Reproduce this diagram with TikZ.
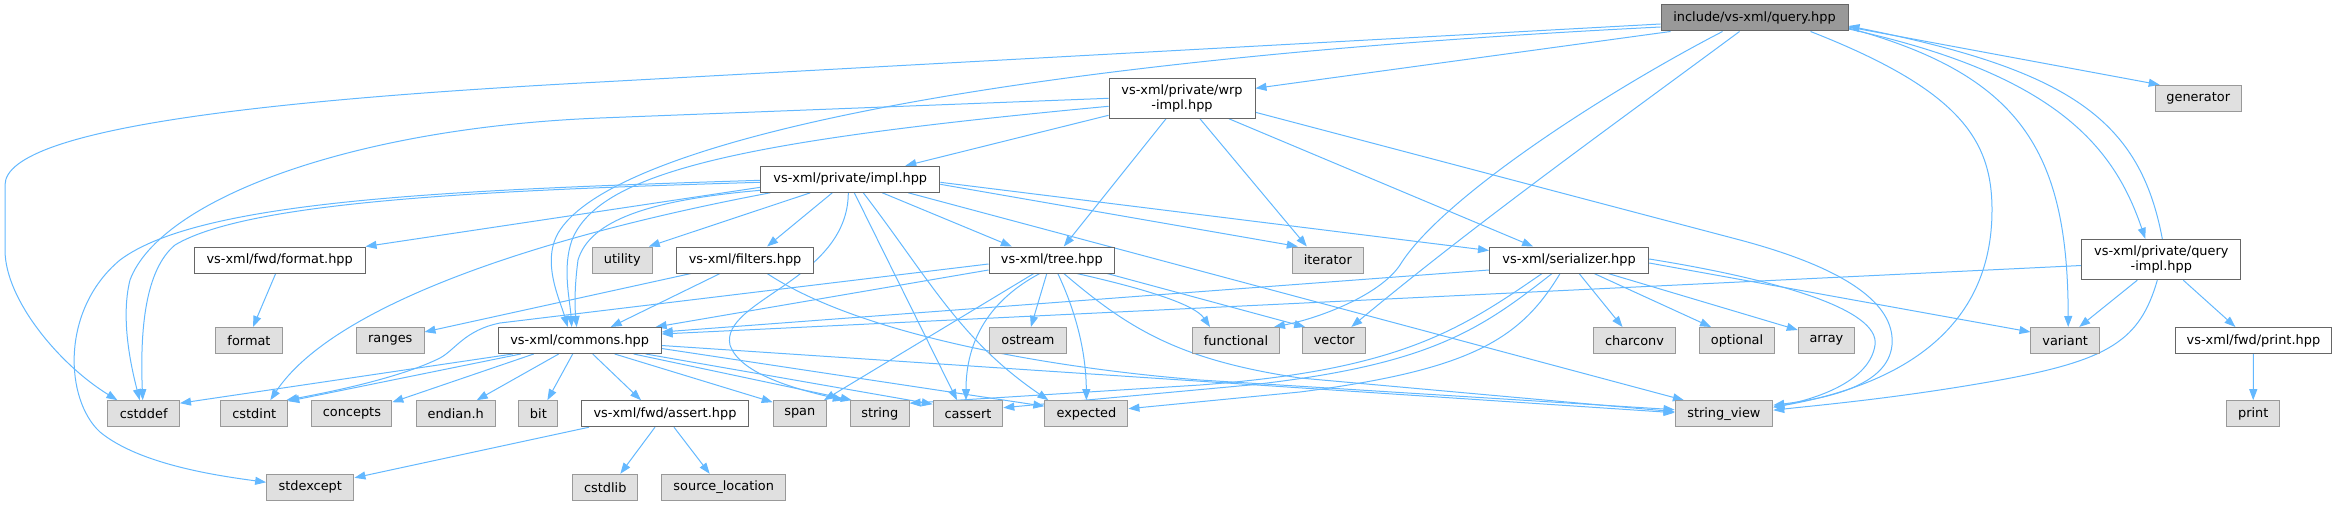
\documentclass[tikz,border=0pt]{standalone}
\usepackage{fontspec}
\setmainfont{DejaVu Sans}
\usetikzlibrary{arrows.meta,backgrounds}
\definecolor{edgec}{HTML}{63B8FF}
\definecolor{bordA}{HTML}{666666}
\definecolor{bordB}{HTML}{999999}
\definecolor{fillB}{HTML}{E0E0E0}
\definecolor{fillR}{HTML}{999999}
\newcommand\gfont{\fontsize{12.9pt}{15pt}\selectfont}
\tikzset{
  base/.style={line width=1pt, font=\gfont, inner sep=0pt, minimum height=26pt, align=center},
  hdr/.style={base, draw=bordA, fill=white},
  sys/.style={base, draw=bordB, fill=fillB},
  rootn/.style={base, draw=bordA, fill=fillR},
  conn/.style={draw=edgec, line width=1pt, -{Triangle[length=11pt,width=8pt]}}
}
\begin{document}
\begin{tikzpicture}[x=1pt,y=-1pt]
\useasboundingbox (0,0) rectangle (2337,505);
% nodes
\node[rootn, minimum width=187pt] (root) at (1754.5,18) {include/vs-xml/query.hpp};
\node[hdr, minimum width=146pt, minimum height=40pt] (wrp) at (1182,98.3) {vs-xml/private/wrp\\-impl.hpp};
\node[sys, minimum width=86pt] (generator) at (2198.2,98.3) {generator};
\node[hdr, minimum width=179pt] (impl) at (850.3,179.3) {vs-xml/private/impl.hpp};
\node[hdr, minimum width=170.7pt] (formathpp) at (279.7,260) {vs-xml/fwd/format.hpp};
\node[sys, minimum width=60pt] (utility) at (622.3,260) {utility};
\node[hdr, minimum width=136.6pt] (filters) at (745.1,260) {vs-xml/filters.hpp};
\node[hdr, minimum width=125.6pt] (tree) at (1051.8,260) {vs-xml/tree.hpp};
\node[sys, minimum width=70.8pt] (iterator) at (1327.8,260) {iterator};
\node[hdr, minimum width=159.2pt] (serializer) at (1569.1,260) {vs-xml/serializer.hpp};
\node[hdr, minimum width=158.8pt, minimum height=40.4pt] (qimpl) at (2161.3,259.5) {vs-xml/private/query\\-impl.hpp};
\node[sys, minimum width=67pt] (format) at (249,340.5) {format};
\node[sys, minimum width=67.4pt] (ranges) at (390.3,340.5) {ranges};
\node[hdr, minimum width=162.9pt] (commons) at (579.7,340.5) {vs-xml/commons.hpp};
\node[sys, minimum width=76.2pt] (ostream) at (1027.9,340.5) {ostream};
\node[sys, minimum width=86.9pt] (functional) at (1236,340.5) {functional};
\node[sys, minimum width=63.2pt] (vector) at (1334.3,340.5) {vector};
\node[sys, minimum width=81.1pt] (charconv) at (1634.5,340.5) {charconv};
\node[sys, minimum width=75.1pt] (optional) at (1737,340.5) {optional};
\node[sys, minimum width=56.3pt] (array) at (1826.4,340.5) {array};
\node[sys, minimum width=68.5pt] (variant) at (2065.2,340.5) {variant};
\node[hdr, minimum width=156.5pt] (printhpp) at (2253.4,340.5) {vs-xml/fwd/print.hpp};
\node[sys, minimum width=71.6pt] (cstddef) at (143.7,413.7) {cstddef};
\node[sys, minimum width=67pt] (cstdint) at (254.3,413.7) {cstdint};
\node[sys, minimum width=79.9pt] (concepts) at (351.9,413.7) {concepts};
\node[sys, minimum width=78.9pt] (endian) at (455.7,413.7) {endian.h};
\node[sys, minimum width=39pt] (bit) at (538.4,413.7) {bit};
\node[hdr, minimum width=166.8pt] (assert) at (665,413.7) {vs-xml/fwd/assert.hpp};
\node[sys, minimum width=53.2pt] (span) at (799.8,413.7) {span};
\node[sys, minimum width=58.6pt] (string) at (879.8,413.7) {string};
\node[sys, minimum width=69.6pt] (cassert) at (968,413.7) {cassert};
\node[sys, minimum width=83.1pt] (expected) at (1086.4,413.7) {expected};
\node[sys, minimum width=97.7pt] (stringview) at (1723.9,413.7) {string\_view};
\node[sys, minimum width=52.5pt] (print) at (2253.2,413.7) {print};
\node[sys, minimum width=87.3pt] (stdexcept) at (310.3,487.3) {stdexcept};
\node[sys, minimum width=65pt] (cstdlib) at (605.3,487.3) {cstdlib};
\node[sys, minimum width=124.4pt] (srcloc) at (723.7,487.3) {source\_location};
\begin{pgfonlayer}{background}
% root
\draw[conn] ([yshift=-6pt]root.west) -- (600,82) .. controls (300,98) and (5,125) .. (5,185) -- (5,250) .. controls (5,300) and (60,365) .. ([xshift=10pt]cstddef.north west);
\draw[conn] ([yshift=-9pt]root.west) .. controls (1000,60) and (620,140) .. (560,230) .. controls (540,260) and (560,300) .. ([xshift=-12pt]commons.north);
\draw[conn] ([xshift=10pt]root.south west) -- ([yshift=10pt]wrp.east);
\draw[conn] ([xshift=-32pt]root.south) .. controls (1600,95) and (1440,200) .. (1400,265) .. controls (1380,295) and (1320,318) .. ([xshift=-6pt]functional.north east);
\draw[conn] ([xshift=-15pt]root.south) .. controls (1620,120) and (1480,220) .. ([xshift=17pt]vector.north);
\draw[conn] ([xshift=56pt]root.south) .. controls (1960,90) and (1992,140) .. (1992,210) .. controls (1992,330) and (1900,385) .. ([yshift=-7pt]stringview.north east);
\draw[conn] ([yshift=-10pt]root.east) .. controls (2020,75) and (2068,150) .. ([xshift=3pt]variant.north);
\draw[conn] ([yshift=-11pt]root.east) .. controls (2060,75) and (2115,150) .. ([xshift=-16pt]qimpl.north);
\draw[conn] ([xshift=1pt]qimpl.north) .. controls (2140,120) and (2070,70) .. ([yshift=-8pt]root.east);
\draw[conn] ([yshift=-9pt]root.east) -- ([xshift=5pt]generator.north west);
% wrp
\draw[conn] (wrp.west) -- (600,118) .. controls (350,128) and (160,200) .. (130,280) .. controls (120,320) and (132,370) .. ([xshift=-4pt]cstddef.north);
\draw[conn] ([yshift=-8pt]wrp.west) .. controls (750,140) and (600,170) .. (572,240) .. controls (562,268) and (570,300) .. ([xshift=-8pt]commons.north);
\draw[conn] ([yshift=-17pt]wrp.west) -- ([xshift=55pt]impl.north);
\draw[conn] ([xshift=-16pt]wrp.south) -- ([xshift=12pt]tree.north);
\draw[conn] ([xshift=18pt]wrp.south) -- ([xshift=-21pt]iterator.north);
\draw[conn] ([xshift=47pt]wrp.south) -- ([xshift=-36pt]serializer.north);
\draw[conn] ([yshift=-14pt]wrp.east) -- (1740,240) .. controls (1860,272) and (1895,310) .. (1892,345) .. controls (1888,385) and (1830,398) .. ([yshift=-5pt]stringview.north east);
% impl
\draw[conn] ([yshift=-8pt]impl.west) -- (formathpp.north east);
\draw[conn] ([xshift=-40pt]impl.south) -- ([xshift=-4pt]utility.north east);
\draw[conn] ([xshift=-18pt]impl.south) -- ([xshift=22pt]filters.north);
\draw[conn] ([xshift=32pt]impl.south) -- ([xshift=-40pt]tree.north);
\draw[conn] ([yshift=-5pt]impl.east) -- ([xshift=-30pt]iterator.north);
\draw[conn] ([yshift=-3pt]impl.east) -- ([yshift=-4pt]serializer.north west);
\draw[conn] ([xshift=58pt]impl.south) -- ([xshift=-40pt]stringview.north);
\draw[conn] ([yshift=-11pt]impl.west) .. controls (650,200) and (590,220) .. (578,260) .. controls (574,290) and (575,310) .. ([xshift=-3pt]commons.north);
\draw[conn] ([yshift=-3pt]impl.west) .. controls (500,190) and (250,200) .. (175,245) .. controls (145,270) and (140,330) .. ([xshift=-1pt]cstddef.north);
\draw[conn] ([yshift=-1pt]impl.west) .. controls (450,190) and (200,200) .. (120,260) .. controls (60,310) and (65,400) .. (100,432) .. controls (140,465) and (220,476) .. ([yshift=5pt]stdexcept.west);
\draw[conn] ([xshift=-80pt]impl.south) .. controls (520,240) and (330,310) .. ([xshift=16pt]cstdint.north);
\draw[conn] ([xshift=-2pt]impl.south) .. controls (848,280) and (720,300) .. (730,345) .. controls (740,375) and (800,390) .. ([xshift=-36pt]string.north);
\draw[conn] ([xshift=4pt]impl.south) -- ([xshift=-11pt]cassert.north);
\draw[conn] ([xshift=13pt]impl.south) .. controls (930,280) and (960,340) .. ([xshift=-38pt]expected.north);
% filters
\draw[conn] ([xshift=-54pt]filters.south) -- ([yshift=-5pt]ranges.north east);
\draw[conn] ([xshift=-25pt]filters.south) -- ([xshift=31pt]commons.north);
\draw[conn] ([xshift=22pt]filters.south) .. controls (860,335) and (1050,368) .. (1200,380) -- ([yshift=4pt]stringview.west);
% tree
\draw[conn] ([yshift=-10pt]tree.west) -- ([xshift=-6pt]commons.north east);
\draw[conn] ([yshift=-4pt]tree.west) -- (500,323) .. controls (465,330) and (455,350) .. (440,358) .. controls (400,378) and (330,392) .. ([xshift=-2pt]cstdint.north east);
\draw[conn] ([xshift=-18pt]tree.south) -- ([xshift=-3pt]span.north east);
\draw[conn] ([xshift=-12pt]tree.south) .. controls (990,300) and (966,340) .. ([xshift=-2pt]cassert.north);
\draw[conn] ([xshift=-5pt]tree.south) -- ([xshift=3pt]ostream.north);
\draw[conn] ([xshift=6pt]tree.south) .. controls (1075,310) and (1086,350) .. (expected.north);
\draw[conn] ([xshift=12pt]tree.south) .. controls (1130,330) and (1180,360) .. (1300,378) -- ([yshift=2pt]stringview.west);
\draw[conn] ([xshift=25pt]tree.south) .. controls (1150,290) and (1195,305) .. ([xshift=-26pt]functional.north);
\draw[conn] ([xshift=-8pt]tree.south east) -- ([xshift=3pt]vector.north west);
% serializer
\draw[conn] ([yshift=-10pt]serializer.west) -- ([yshift=-5pt]commons.north east);
\draw[conn] ([xshift=-27pt]serializer.south) .. controls (1460,330) and (1400,370) .. (1200,385) -- ([yshift=-3pt]string.north east);
\draw[conn] ([xshift=-17pt]serializer.south) .. controls (1480,330) and (1430,365) .. (1250,385) -- ([yshift=6pt]cassert.east);
\draw[conn] ([xshift=-9pt]serializer.south) .. controls (1520,340) and (1470,370) .. (1300,392) -- ([yshift=5pt]expected.east);
\draw[conn] ([xshift=10pt]serializer.south) -- ([xshift=-12pt]charconv.north);
\draw[conn] ([xshift=25pt]serializer.south) -- ([xshift=-26pt]optional.north);
\draw[conn] ([xshift=39pt]serializer.south) -- ([yshift=-3pt]array.north west);
\draw[conn] ([yshift=-3pt]serializer.east) -- ([yshift=-5pt]variant.north west);
\draw[conn] ([yshift=1pt]serializer.east) .. controls (1780,280) and (1880,310) .. (1875,345) .. controls (1870,380) and (1820,398) .. ([yshift=-7pt]stringview.north east);
% query-impl
\draw[conn] ([yshift=-6pt]qimpl.west) -- ([yshift=-7pt]commons.north east);
\draw[conn] ([xshift=-24pt]qimpl.south) -- ([xshift=14pt]variant.north);
\draw[conn] ([xshift=-4pt]qimpl.south) .. controls (2140,340) and (2110,360) .. (2000,380) .. controls (1900,398) and (1820,405) .. ([yshift=-10pt]stringview.north east);
\draw[conn] ([xshift=22pt]qimpl.south) -- ([xshift=-18pt]printhpp.north);
\draw[conn] (printhpp.south) -- (print.north);
\draw[conn] ([xshift=-4pt]formathpp.south) -- ([xshift=4pt]format.north);
% commons
\draw[conn] ([xshift=-67pt]commons.south) -- ([yshift=-3pt]cstddef.north east);
\draw[conn] ([xshift=-59pt]commons.south) -- ([yshift=-1pt]cstdint.north east);
\draw[conn] ([xshift=-46pt]commons.south) -- ([yshift=-2pt]concepts.north east);
\draw[conn] ([xshift=-21pt]commons.south) -- ([xshift=21pt]endian.north);
\draw[conn] ([xshift=-7pt]commons.south) -- ([xshift=9pt]bit.north);
\draw[conn] ([xshift=13pt]commons.south) -- ([xshift=-24pt]assert.north);
\draw[conn] ([xshift=35pt]commons.south) -- ([yshift=-2pt]span.north west);
\draw[conn] ([xshift=54pt]commons.south) -- ([xshift=-28pt]string.north);
\draw[conn] ([xshift=66pt]commons.south) -- ([yshift=-4pt]cassert.north west);
\draw[conn] ([yshift=-8pt]commons.east) -- ([yshift=-6pt]expected.north west);
\draw[conn] ([yshift=-5pt]commons.east) -- ([yshift=1pt]stringview.west);
% assert
\draw[conn] ([xshift=-10pt]assert.south) -- ([xshift=15pt]cstdlib.north);
\draw[conn] ([xshift=9pt]assert.south) -- ([xshift=-14pt]srcloc.north);
\draw[conn] ([xshift=8pt]assert.south west) -- ([yshift=-4pt]stdexcept.north east);
\end{pgfonlayer}
\end{tikzpicture}
\end{document}
